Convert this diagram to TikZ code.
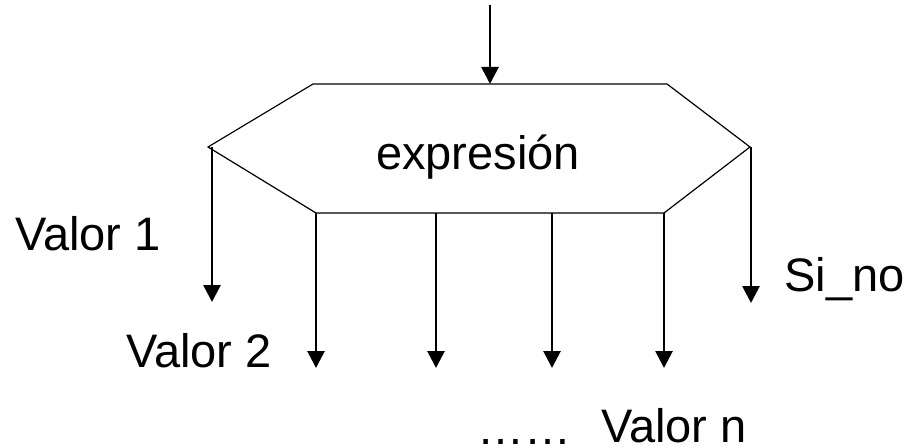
\documentclass[tikz,border=0pt]{standalone}
\usepackage{fontspec}
\setmainfont{Liberation Sans}
\usetikzlibrary{arrows.meta}
\begin{document}
\begin{tikzpicture}[x=0.5pt,y=-0.5pt,
  hexline/.style={line width=0.6pt,black},
  flow/.style={line width=1.4pt,-{Triangle[length=8.5pt,width=8.5pt]}},
  lbl/.style={inner sep=0pt,font=\fontsize{23.5pt}{28pt}\selectfont}]
\useasboundingbox (0,0) rectangle (908,448);
% hexagon vertices
\coordinate (tl) at (313,84);
\coordinate (tr) at (667,84);
\coordinate (r)  at (750,147);
\coordinate (br) at (664,213);
\coordinate (bl) at (316,213);
\coordinate (l)  at (208,147);
\draw[hexline] (tl) -- (tr) -- (r) -- (br) -- (bl) -- (l) -- cycle;
\node[lbl,anchor=base] (expr) at (478,170) {expresión};
% incoming arrow
\coordinate (in) at (490,5);
\coordinate (inEnd) at (490,84);
\draw[flow] (in) -- (inEnd);
% branch start points on the hexagon
\coordinate (s1) at (212,147);
\coordinate (s2) at (316,213);
\coordinate (s3) at (436,213);
\coordinate (s4) at (552,213);
\coordinate (s5) at (664,213);
\coordinate (s6) at (751,147);
% branch end points
\coordinate (e1) at (212,302);
\coordinate (e2) at (316,368);
\coordinate (e3) at (436,368);
\coordinate (e4) at (552,368);
\coordinate (e5) at (664,368);
\coordinate (e6) at (751,303);
\foreach \i in {1,...,6} \draw[flow] (s\i) -- (e\i);
% branch labels
\node[lbl,anchor=base west] (v1) at (15,250) {Valor 1};
\node[lbl,anchor=base west] (v2) at (126,367) {Valor 2};
\node[lbl,anchor=base west] (sino) at (784,292) {Si\_no};
\node[lbl,anchor=base west] (dots) at (477,444) {……};
\node[lbl,anchor=base west] (vn) at (601,442) {Valor n};
\end{tikzpicture}
\end{document}
